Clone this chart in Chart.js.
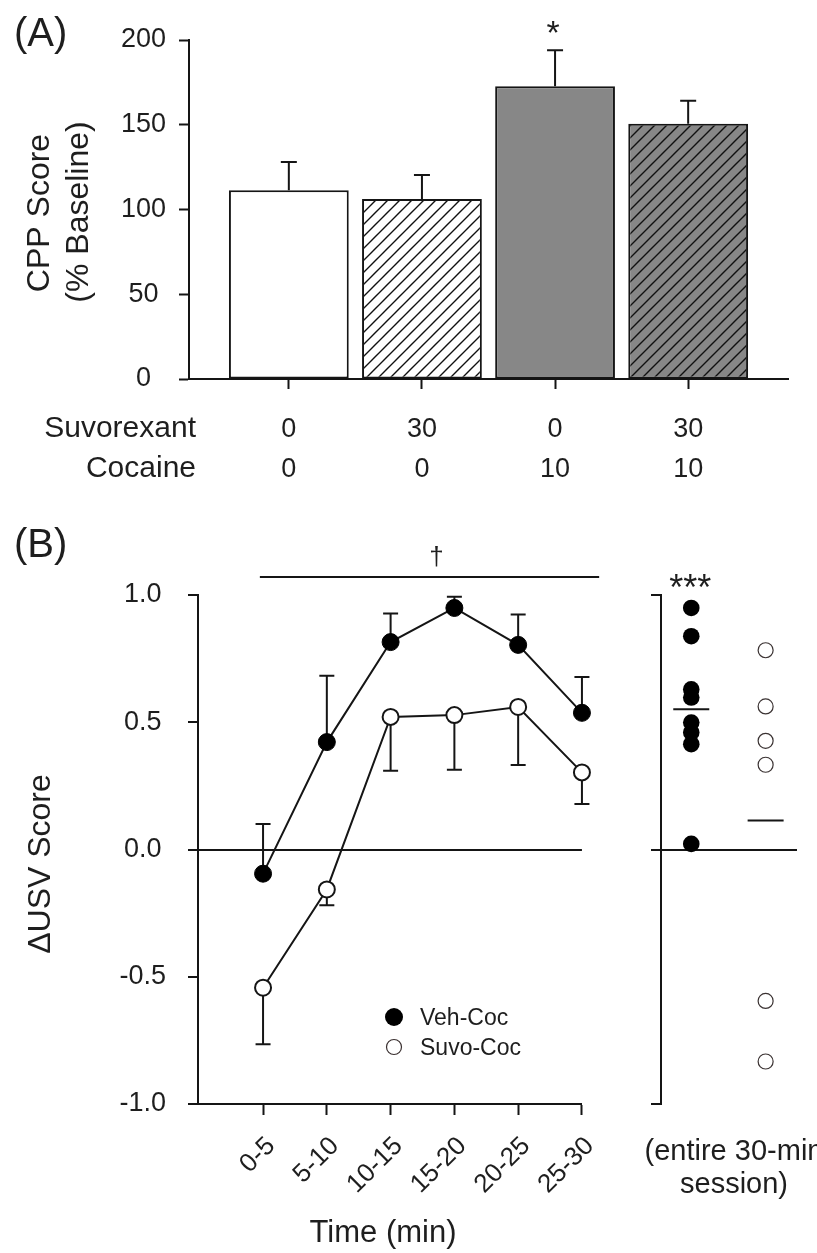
<!DOCTYPE html>
<html>
<head>
<meta charset="utf-8">
<script src="https://cdn.jsdelivr.net/npm/chart.js@4.4.1/dist/chart.umd.min.js"></script>
<style>
  body { margin: 0; background: #fff; }
  #wrap { position: relative; width: 817px; height: 1253px; overflow: hidden; background: #fff; }
  canvas { position: absolute; }
</style>
</head>
<body>
<div id="wrap">
  <canvas id="cppChart" width="817" height="500" style="left:0;top:0"></canvas>
  <canvas id="usvChart" width="620" height="753" style="left:0;top:500px"></canvas>
  <canvas id="sessionChart" width="197" height="753" style="left:620px;top:500px"></canvas>
</div>
<script>
// ---- data ----
// Panel A
const suvorexantDose = ["0", "30", "0", "30"];
const cocaineDose = ["0", "0", "10", "10"];
const cppMeans = [111.3, 106.2, 172.7, 150.6];
const cppSem = [16.7, 14.2, 21.2, 13.6];
const cppSig = ["", "", "*", ""];
const cppTicks = [0, 50, 100, 150, 200];

// Panel B, time course
const timeBins = ["0-5", "5-10", "10-15", "15-20", "20-25", "25-30"];
const vehMeans = [-0.095, 0.422, 0.815, 0.949, 0.804, 0.537];
const vehSem = [0.195, 0.261, 0.112, 0.044, 0.119, 0.141];
const suvoMeans = [-0.543, -0.157, 0.521, 0.528, 0.560, 0.303];
const suvoSem = [0.222, 0.062, 0.212, 0.215, 0.228, 0.124];
const usvTicks = [-1, -0.5, 0, 0.5, 1];

// Panel B, whole session (individual animals)
const vehSession = [0.949, 0.838, 0.629, 0.597, 0.499, 0.460, 0.414, 0.022];
const suvoSession = [0.783, 0.562, 0.427, 0.333, -0.595, -0.833];
const sessionMeans = [0.551, 0.114];

const FONT = '"Liberation Sans", Arial, Helvetica, sans-serif';
const INK = "#151515";
Chart.defaults.font.family = FONT;
Chart.defaults.color = "#1e1e1e";
Chart.defaults.animation = false;
Chart.defaults.events = [];
Chart.defaults.plugins.legend.display = false;
Chart.defaults.plugins.tooltip.enabled = false;

function label(ctx, str, x, y, size, align, rotate) {
  ctx.save();
  ctx.font = size + "px " + FONT;
  ctx.fillStyle = "#1e1e1e";
  ctx.textAlign = align || "center";
  ctx.textBaseline = "alphabetic";
  ctx.translate(x, y);
  if (rotate) ctx.rotate(rotate);
  ctx.fillText(str, 0, 0);
  ctx.restore();
}

// diagonal "///" fill for the suvorexant bars
function hatch(ctx, bg) {
  const n = 12;
  const c = document.createElement("canvas");
  c.width = n; c.height = n;
  const g = c.getContext("2d");
  g.fillStyle = bg;
  g.fillRect(0, 0, n, n);
  g.strokeStyle = "#111";
  g.lineWidth = 1.4;
  g.beginPath();
  g.moveTo(-1, n + 1); g.lineTo(n + 1, -1);
  g.moveTo(-1, 1); g.lineTo(1, -1);
  g.moveTo(n - 1, n + 1); g.lineTo(n + 1, n - 1);
  g.stroke();
  return ctx.createPattern(c, "repeat");
}

// ---- Panel A: CPP bars ----
const ctxA = document.getElementById("cppChart").getContext("2d");

const cppDecor = {
  id: "cppDecor",
  afterDatasetsDraw(chart) {
    const { ctx, scales: { x, y } } = chart;
    ctx.save();
    ctx.strokeStyle = INK;
    ctx.lineWidth = 2;
    cppMeans.forEach((m, i) => {
      const px = x.getPixelForValue(i);
      const top = y.getPixelForValue(m + cppSem[i]);
      ctx.beginPath();
      ctx.moveTo(px, y.getPixelForValue(m));
      ctx.lineTo(px, top);
      ctx.moveTo(px - 8, top);
      ctx.lineTo(px + 8, top);
      ctx.stroke();
      if (cppSig[i]) label(ctx, cppSig[i], px - 2, top - 6, 34);
      label(ctx, suvorexantDose[i], px, 437, 27);
      label(ctx, cocaineDose[i], px, 477, 27);
    });
    ctx.restore();

    label(ctx, "(A)", 14, 46, 40, "left");
    label(ctx, "Suvorexant", 196, 437, 30, "right");
    label(ctx, "Cocaine", 196, 477, 30, "right");
    label(ctx, "CPP Score", 49, 213, 32, "center", -Math.PI / 2);
    label(ctx, "(% Baseline)", 88, 212, 32, "center", -Math.PI / 2);
  }
};

new Chart(ctxA, {
  type: "bar",
  data: {
    datasets: [{
      data: cppMeans.map((v, i) => ({ x: i, y: v })),
      backgroundColor: ["#ffffff", hatch(ctxA, "#ffffff"), "#878787", hatch(ctxA, "#878787")],
      borderColor: INK,
      borderWidth: 2,
      borderSkipped: false,
      barPercentage: 0.9,
      categoryPercentage: 1
    }]
  },
  options: {
    responsive: false,
    devicePixelRatio: 1,
    layout: { padding: { left: 0, top: 40, right: 29, bottom: 0 } },
    scales: {
      x: {
        type: "linear",
        min: -0.75,
        max: 3.75,
        offset: false,
        afterBuildTicks: s => { s.ticks = cppMeans.map((_, i) => ({ value: i })); },
        ticks: { display: false },
        grid: { offset: false, drawOnChartArea: false, drawTicks: true, tickLength: 10, tickColor: INK, tickWidth: 2 },
        border: { display: true, color: INK, width: 2 },
        afterFit: s => { s.height = 121; }
      },
      y: {
        min: 0,
        max: 200,
        afterBuildTicks: s => { s.ticks = cppTicks.map(v => ({ value: v })); },
        ticks: { font: { size: 27 }, padding: 13, crossAlign: "center" },
        grid: { drawOnChartArea: false, tickLength: 10, tickColor: INK, tickWidth: 2 },
        border: { display: true, color: INK, width: 2 },
        afterFit: s => { s.width = 189; }
      }
    }
  },
  plugins: [cppDecor]
});

// ---- Panel B: USV time course ----
const ctxB = document.getElementById("usvChart").getContext("2d");

const usvDecor = {
  id: "usvDecor",
  beforeDatasetsDraw(chart) {
    const { ctx, scales: { x, y } } = chart;
    ctx.save();
    ctx.strokeStyle = INK;
    ctx.lineWidth = 2;
    const bar = (i, from, to) => {
      const px = x.getPixelForValue(i);
      const end = y.getPixelForValue(to);
      ctx.beginPath();
      ctx.moveTo(px, y.getPixelForValue(from));
      ctx.lineTo(px, end);
      ctx.moveTo(px - 7.5, end);
      ctx.lineTo(px + 7.5, end);
      ctx.stroke();
    };
    vehMeans.forEach((m, i) => bar(i, m, m + vehSem[i]));
    suvoMeans.forEach((m, i) => bar(i, m, m - suvoSem[i]));
    ctx.restore();
  },
  afterDatasetsDraw(chart) {
    const { ctx, scales: { x } } = chart;
    // significance bar across the time bins
    ctx.save();
    ctx.strokeStyle = INK;
    ctx.lineWidth = 2;
    ctx.beginPath();
    ctx.moveTo(x.getPixelForValue(-0.05), 77);
    ctx.lineTo(x.getPixelForValue(5.27), 77);
    ctx.stroke();
    ctx.restore();
    label(ctx, "\u2020", x.getPixelForValue(2.72), 65, 26);

    // legend
    ctx.save();
    ctx.fillStyle = "#000";
    ctx.beginPath();
    ctx.arc(394, 517, 9, 0, Math.PI * 2);
    ctx.fill();
    ctx.strokeStyle = "#3a3030";
    ctx.lineWidth = 1.2;
    ctx.beginPath();
    ctx.arc(394, 547, 7.5, 0, Math.PI * 2);
    ctx.stroke();
    ctx.restore();
    label(ctx, "Veh-Coc", 420, 525, 23, "left");
    label(ctx, "Suvo-Coc", 420, 555, 23, "left");

    label(ctx, "(B)", 14, 57, 40, "left");
    label(ctx, "Time (min)", 383, 742, 31);
    label(ctx, "\u0394USV Score", 50, 364, 32, "center", -Math.PI / 2);
  }
};

new Chart(ctxB, {
  type: "line",
  data: {
    datasets: [{
      label: "Veh-Coc",
      data: vehMeans.map((v, i) => ({ x: i, y: v })),
      borderColor: INK,
      borderWidth: 2,
      pointRadius: 8.5,
      pointBackgroundColor: "#000",
      pointBorderColor: "#000",
      pointBorderWidth: 1,
      tension: 0,
      clip: false
    }, {
      label: "Suvo-Coc",
      data: suvoMeans.map((v, i) => ({ x: i, y: v })),
      borderColor: INK,
      borderWidth: 2,
      pointRadius: 8,
      pointBackgroundColor: "#fff",
      pointBorderColor: INK,
      pointBorderWidth: 2,
      tension: 0,
      clip: false
    }]
  },
  options: {
    responsive: false,
    devicePixelRatio: 1,
    layout: { padding: { left: 0, top: 95, right: 37, bottom: 0 } },
    scales: {
      x: {
        type: "linear",
        min: -1.02,
        max: 5,
        afterBuildTicks: s => { s.ticks = timeBins.map((_, i) => ({ value: i })); },
        ticks: {
          autoSkip: false,
          minRotation: 45,
          maxRotation: 45,
          font: { size: 26 },
          padding: 16,
          labelOffset: 8,
          callback: (v, i) => timeBins[i]
        },
        grid: { drawOnChartArea: false, tickLength: 11, tickColor: INK, tickWidth: 2 },
        border: { display: true, color: INK, width: 2 },
        afterFit: s => { s.height = 149; }
      },
      y: {
        min: -1,
        max: 1,
        afterBuildTicks: s => { s.ticks = usvTicks.map(v => ({ value: v })); },
        ticks: { font: { size: 27 }, padding: 22, crossAlign: "center", callback: v => v.toFixed(1) },
        grid: {
          drawOnChartArea: true,
          color: c => (c.tick && c.tick.value === 0 ? INK : "rgba(0,0,0,0)"),
          lineWidth: 2,
          tickLength: 10,
          tickColor: INK,
          tickWidth: 2
        },
        border: { display: true, color: INK, width: 2 },
        afterFit: s => { s.width = 198; }
      }
    }
  },
  plugins: [usvDecor]
});

// ---- Panel B: entire session scatter ----
const ctxC = document.getElementById("sessionChart").getContext("2d");

const sessionDecor = {
  id: "sessionDecor",
  afterDatasetsDraw(chart) {
    const { ctx, scales: { x } } = chart;
    label(ctx, "***", x.getPixelForValue(0) - 1, 100, 36);
    label(ctx, "(entire 30-min", 114, 660, 29);
    label(ctx, "session)", 114, 693, 29);
  }
};

new Chart(ctxC, {
  type: "scatter",
  data: {
    datasets: [{
      label: "Veh-Coc",
      data: vehSession.map(v => ({ x: 0, y: v })),
      pointRadius: 8.3,
      pointBackgroundColor: "#000",
      pointBorderColor: "#000",
      pointBorderWidth: 0,
      clip: false
    }, {
      label: "Suvo-Coc",
      data: suvoSession.map(v => ({ x: 1, y: v })),
      pointRadius: 7.5,
      pointBackgroundColor: "#fff",
      pointBorderColor: "#3a3232",
      pointBorderWidth: 1.2,
      clip: false
    }, {
      label: "mean",
      data: sessionMeans.map((v, i) => ({ x: i, y: v })),
      pointStyle: "line",
      pointRadius: 18,
      pointBorderColor: INK,
      pointBorderWidth: 2,
      clip: false
    }]
  },
  options: {
    responsive: false,
    devicePixelRatio: 1,
    layout: { padding: { left: 0, top: 95, right: 0, bottom: 149 } },
    scales: {
      x: { type: "linear", min: -0.407, max: 1.422, display: false },
      y: {
        min: -1,
        max: 1,
        afterBuildTicks: s => { s.ticks = [-1, 0, 1].map(v => ({ value: v })); },
        ticks: { display: false },
        grid: {
          drawOnChartArea: true,
          color: c => (c.tick && c.tick.value === 0 ? INK : "rgba(0,0,0,0)"),
          lineWidth: 2,
          tickLength: 10,
          tickColor: INK,
          tickWidth: 2
        },
        border: { display: true, color: INK, width: 2 },
        afterFit: s => { s.width = 41; }
      }
    }
  },
  plugins: [sessionDecor]
});
</script>
</body>
</html>
